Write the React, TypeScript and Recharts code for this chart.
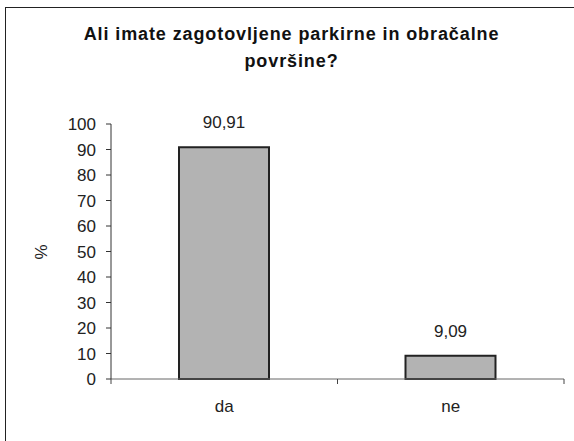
import React from "react";
import { BarChart, Bar, XAxis, YAxis, LabelList } from "recharts";

const categories = ["da", "ne"];
const shares = [90.91, 9.09];
const yTicks = [0, 10, 20, 30, 40, 50, 60, 70, 80, 90, 100];
const boundaryTicks = [0, 1, 2];

const data = categories.map((name, i) => ({ name, value: shares[i], slot: i + 0.5 }));

const font = "'Liberation Sans', Arial, sans-serif";

const App: React.FC = () => {
  return (
    <div
      style={{
        position: "fixed",
        left: 0,
        top: 0,
        width: 574,
        height: 441,
        overflow: "hidden",
        background: "#fff",
        fontFamily: font,
      }}
    >
      <div
        style={{
          position: "absolute",
          left: 5,
          top: 7,
          width: 620,
          height: 500,
          borderLeft: "1.5px solid #222",
          borderTop: "1.5px solid #222",
        }}
      />
      <div
        style={{
          position: "absolute",
          left: 0,
          top: 21,
          width: 583,
          textAlign: "center",
          fontWeight: "bold",
          fontSize: 18,
          letterSpacing: 0.9,
          lineHeight: "27px",
          color: "#111",
        }}
      >
        Ali imate zagotovljene parkirne in obračalne
        <br />
        površine?
      </div>
      <div style={{ position: "absolute", left: 0, top: 0 }}>
        <BarChart
          width={574}
          height={441}
          data={data}
          margin={{ top: 124, right: 10, bottom: 0, left: 60 }}
        >
          <XAxis
            xAxisId="a"
            type="number"
            dataKey="slot"
            domain={[0, 2]}
            allowDataOverflow
            ticks={boundaryTicks}
            interval={0}
            height={1}
            tickFormatter={() => ""}
            tickSize={5}
            axisLine={{ stroke: "#666", strokeWidth: 1 }}
            tickLine={{ stroke: "#444", strokeWidth: 1 }}
          />
          <XAxis
            xAxisId="b"
            dataKey="name"
            height={61}
            axisLine={false}
            tickLine={false}
            tickSize={0}
            tickMargin={20}
            tick={{ fill: "#222", fontSize: 17, fontFamily: font }}
          />
          <YAxis
            width={51}
            domain={[0, 100]}
            ticks={yTicks}
            interval={0}
            tickSize={5}
            tickMargin={10}
            axisLine={{ stroke: "#333", strokeWidth: 1 }}
            tickLine={{ stroke: "#333", strokeWidth: 1 }}
            tick={{ fill: "#222", fontSize: 17, fontFamily: font }}
            label={{
              content: () => (
                <text
                  x={41}
                  y={252}
                  transform="rotate(-90 41 252)"
                  textAnchor="middle"
                  dominantBaseline="central"
                  fontSize={17}
                  fontFamily={font}
                  fill="#222"
                >
                  %
                </text>
              ),
            }}
          />
          <Bar
            xAxisId="b"
            dataKey="value"
            fill="#b3b3b3"
            stroke="#222"
            strokeWidth={2}
            barSize={90}
            isAnimationActive={false}
          >
            <LabelList
              dataKey="value"
              position="top"
              offset={19}
              formatter={(v: number) => String(v).replace(".", ",")}
              style={{ fill: "#222", fontSize: 17, fontFamily: font }}
            />
          </Bar>
        </BarChart>
      </div>
    </div>
  );
};

export default App;
